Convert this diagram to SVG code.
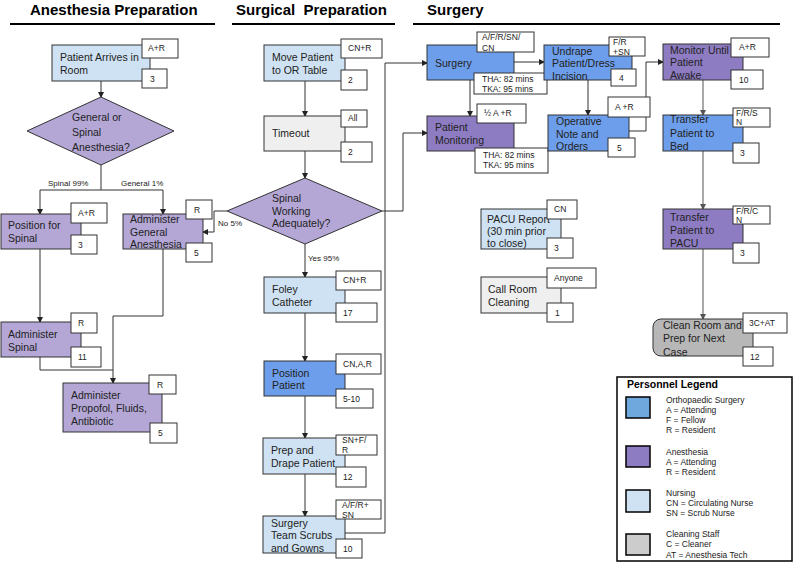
<svg xmlns="http://www.w3.org/2000/svg" width="794" height="562" viewBox="0 0 794 562">
<defs>
<style>
text{font-family:"Liberation Sans",Arial,sans-serif;fill:#222}
.t{font-size:10.5px}
.s{font-size:8.5px}
.e{font-size:8px}
.h{font-size:15px;font-weight:bold;fill:#000}
.b{stroke:#333;stroke-width:1}
.lb{fill:#fff;stroke:#333;stroke-width:1}
.nb{fill:#cfe2f3}.db{fill:#6d9eeb}.lp{fill:#b4a7d6}.dp{fill:#8e7cc3}.lg{fill:#efefef}.gr{fill:#b7b7b7}
.c{fill:none;stroke:#333;stroke-width:1}
.ca{fill:none;stroke:#333;stroke-width:1;marker-end:url(#ah)}
.cg{fill:none;stroke:#8c8c8c;stroke-width:1.5;marker-end:url(#ag)}
.ul{stroke:#000;stroke-width:2}
</style>
<marker id="ah" markerUnits="userSpaceOnUse" markerWidth="6" markerHeight="6" refX="5" refY="3" orient="auto"><path d="M0,0 L6,3 L0,6 z" fill="#222"/></marker>
<marker id="ag" markerUnits="userSpaceOnUse" markerWidth="6" markerHeight="6" refX="5" refY="3" orient="auto"><path d="M0,0 L6,3 L0,6 z" fill="#555"/></marker>
</defs>
<rect width="794" height="562" fill="#fff"/>

<g id="titles">
<text class="h" x="30" y="15">Anesthesia Preparation</text>
<line class="ul" x1="10" y1="24" x2="215" y2="24"/>
<text class="h" x="236" y="15" xml:space="preserve">Surgical  Preparation</text>
<line class="ul" x1="232" y1="24" x2="395" y2="24"/>
<text class="h" x="427" y="15">Surgery</text>
<line class="ul" x1="413" y1="24" x2="780" y2="24"/>
</g>

<g id="connectors">
<path class="ca" d="M101,81 V97"/>
<path class="c" d="M101,165 V190 M40,190 H163"/>
<path class="ca" d="M40,190 V214"/>
<path class="ca" d="M163,190 V214"/>
<text class="e" x="48" y="186">Spinal 99%</text>
<text class="e" x="121" y="186">General 1%</text>
<path class="ca" d="M40,249 V322"/>
<path class="ca" d="M163,249 V316 H113 V383"/>
<path class="c" d="M40,357 V370 H113"/>
<path class="ca" d="M227,211 H214 V232 H203"/>
<text class="e" x="218" y="226">No 5%</text>
<path class="ca" d="M305,81 V116"/>
<path class="ca" d="M305,151 V178"/>
<path class="ca" d="M305,244 V277"/>
<text class="e" x="308" y="261">Yes 95%</text>
<path class="ca" d="M305,313 V361"/>
<path class="ca" d="M305,396 V438"/>
<path class="ca" d="M305,474 V516"/>
<path class="ca" d="M345,533 H385 V63 H427"/>
<path class="ca" d="M382,211 H403 V133 H427"/>
<path class="ca" d="M514,62 H544"/>
<path class="ca" d="M470,80 V116"/>
<path class="ca" d="M588,80 V115"/>
<path class="ca" d="M629,131 H646 V62 H663"/>
<path class="cg" d="M703,80 V115"/>
<path class="cg" d="M703,151 V209"/>
<path class="cg" d="M703,249 V319"/>
</g>

<g id="patient-arrives">
<rect class="b nb" x="52" y="45" width="98" height="36"/>
<text class="t" x="60" y="61">Patient Arrives in</text>
<text class="t" x="60" y="74">Room</text>
<rect class="lb" x="142" y="39" width="36" height="19"/><text class="s" x="148" y="51">A+R</text>
<rect class="lb" x="142" y="69" width="25" height="19"/><text class="s" x="150" y="82">3</text>
</g>

<g id="general-or-spinal">
<polygon class="b lp" points="101,97 174,131 101,165 27,131"/>
<text class="t" x="72" y="121">General or</text>
<text class="t" x="72" y="136">Spinal</text>
<text class="t" x="72" y="151">Anesthesia?</text>
</g>

<g id="position-for-spinal">
<rect class="b lp" x="1" y="214" width="80" height="35"/>
<text class="t" x="8" y="229">Position for</text>
<text class="t" x="8" y="242">Spinal</text>
<rect class="lb" x="71" y="203" width="36" height="20"/><text class="s" x="78" y="216">A+R</text>
<rect class="lb" x="71" y="235" width="26" height="19"/><text class="s" x="78" y="248">3</text>
</g>

<g id="administer-general">
<rect class="b lp" x="123" y="214" width="80" height="35"/>
<text class="t" x="130" y="223">Administer</text>
<text class="t" x="130" y="236">General</text>
<text class="t" x="130" y="248">Anesthesia</text>
<rect class="lb" x="186" y="200" width="26" height="19"/><text class="s" x="194" y="213">R</text>
<rect class="lb" x="186" y="243" width="26" height="19"/><text class="s" x="194" y="256">5</text>
</g>

<g id="administer-spinal">
<rect class="b lp" x="1" y="322" width="80" height="35"/>
<text class="t" x="8" y="338">Administer</text>
<text class="t" x="8" y="351">Spinal</text>
<rect class="lb" x="71" y="313" width="26" height="20"/><text class="s" x="78" y="326">R</text>
<rect class="lb" x="71" y="347" width="30" height="20"/><text class="s" x="78" y="360">11</text>
</g>

<g id="administer-propofol">
<rect class="b lp" x="63" y="383" width="99" height="49"/>
<text class="t" x="71" y="399">Administer</text>
<text class="t" x="71" y="412">Propofol, Fluids,</text>
<text class="t" x="71" y="425">Antibiotic</text>
<rect class="lb" x="149" y="375" width="27" height="19"/><text class="s" x="157" y="388">R</text>
<rect class="lb" x="150" y="423" width="27" height="20"/><text class="s" x="158" y="436">5</text>
</g>

<g id="move-patient">
<rect class="b nb" x="264" y="45" width="81" height="36"/>
<text class="t" x="272" y="61">Move Patient</text>
<text class="t" x="272" y="74">to OR Table</text>
<rect class="lb" x="341" y="39" width="41" height="19"/><text class="s" x="348" y="51">CN+R</text>
<rect class="lb" x="341" y="70" width="26" height="20"/><text class="s" x="348" y="83">2</text>
</g>

<g id="timeout">
<rect class="b lg" x="264" y="116" width="81" height="35"/>
<text class="t" x="272" y="137">Timeout</text>
<rect class="lb" x="341" y="110" width="26" height="17"/><text class="s" x="348" y="121">All</text>
<rect class="lb" x="341" y="142" width="31" height="20"/><text class="s" x="348" y="155">2</text>
</g>

<g id="spinal-working">
<polygon class="b lp" points="305,178 382,211 305,244 227,211"/>
<text class="t" x="272" y="202">Spinal</text>
<text class="t" x="272" y="215">Working</text>
<text class="t" x="272" y="227">Adequately?</text>
</g>

<g id="foley-catheter">
<rect class="b nb" x="264" y="277" width="81" height="36"/>
<text class="t" x="272" y="293">Foley</text>
<text class="t" x="272" y="306">Catheter</text>
<rect class="lb" x="336" y="271" width="45" height="19"/><text class="s" x="343" y="283">CN+R</text>
<rect class="lb" x="336" y="303" width="41" height="19"/><text class="s" x="343" y="316">17</text>
</g>

<g id="position-patient">
<rect class="b db" x="264" y="361" width="81" height="35"/>
<text class="t" x="272" y="377">Position</text>
<text class="t" x="272" y="389">Patient</text>
<rect class="lb" x="336" y="354" width="45" height="20"/><text class="s" x="343" y="367">CN,A,R</text>
<rect class="lb" x="336" y="389" width="37" height="19"/><text class="s" x="343" y="402">5-10</text>
</g>

<g id="prep-drape">
<rect class="b nb" x="263" y="438" width="82" height="36"/>
<text class="t" x="271" y="454">Prep and</text>
<text class="t" x="271" y="467">Drape Patient</text>
<rect class="lb" x="336" y="435" width="41" height="20"/><text class="s" x="342" y="443">SN+F/</text><text class="s" x="342" y="453">R</text>
<rect class="lb" x="336" y="467" width="30" height="20"/><text class="s" x="343" y="480">12</text>
</g>

<g id="team-scrubs">
<rect class="b nb" x="263" y="516" width="82" height="37"/>
<text class="t" x="271" y="527">Surgery</text>
<text class="t" x="271" y="539">Team Scrubs</text>
<text class="t" x="271" y="552">and Gowns</text>
<rect class="lb" x="336" y="500" width="45" height="19"/><text class="s" x="342" y="508">A/F/R+</text><text class="s" x="342" y="518">SN</text>
<rect class="lb" x="336" y="539" width="26" height="19"/><text class="s" x="343" y="552">10</text>
</g>

<g id="surgery">
<rect class="b db" x="427" y="45" width="87" height="35"/>
<text class="t" x="435" y="67">Surgery</text>
<rect class="lb" x="477" y="32" width="57" height="20"/><text class="s" x="482" y="40">A/F/R/SN/</text><text class="s" x="482" y="51">CN</text>
<rect class="lb" x="474" y="73" width="73" height="21"/><text class="s" x="482" y="82">THA: 82 mins</text><text class="s" x="482" y="92">TKA: 95 mins</text>
</g>

<g id="undrape">
<rect class="b db" x="544" y="45" width="88" height="35"/>
<text class="t" x="552" y="55">Undrape</text>
<text class="t" x="552" y="67">Patient/Dress</text>
<text class="t" x="552" y="80">Incision</text>
<rect class="lb" x="609" y="37" width="36" height="19"/><text class="s" x="613" y="45">F/R</text><text class="s" x="613" y="55">+SN</text>
<rect class="lb" x="611" y="69" width="25" height="17"/><text class="s" x="619" y="81">4</text>
</g>

<g id="patient-monitoring">
<rect class="b dp" x="427" y="116" width="87" height="35"/>
<text class="t" x="435" y="131">Patient</text>
<text class="t" x="435" y="144">Monitoring</text>
<rect class="lb" x="477" y="104" width="49" height="19"/><text class="s" x="484" y="116">½ A +R</text>
<rect class="lb" x="475" y="148" width="73" height="25"/><text class="s" x="483" y="158">THA: 82 mins</text><text class="s" x="483" y="168">TKA: 95 mins</text>
</g>

<g id="operative-note">
<rect class="b db" x="548" y="115" width="81" height="36"/>
<text class="t" x="556" y="125">Operative</text>
<text class="t" x="556" y="138">Note and</text>
<text class="t" x="556" y="150">Orders</text>
<rect class="lb" x="608" y="97" width="42" height="20"/><text class="s" x="615" y="110">A +R</text>
<rect class="lb" x="608" y="138" width="27" height="19"/><text class="s" x="617" y="151">5</text>
</g>

<g id="monitor-awake">
<rect class="b dp" x="663" y="44" width="80" height="36"/>
<text class="t" x="670" y="54">Monitor Until</text>
<text class="t" x="670" y="66">Patient</text>
<text class="t" x="670" y="79">Awake</text>
<rect class="lb" x="731" y="38" width="38" height="19"/><text class="s" x="739" y="50">A+R</text>
<rect class="lb" x="731" y="70" width="32" height="19"/><text class="s" x="739" y="83">10</text>
</g>

<g id="transfer-bed">
<rect class="b db" x="663" y="115" width="80" height="36"/>
<text class="t" x="670" y="123">Transfer</text>
<text class="t" x="670" y="137">Patient to</text>
<text class="t" x="670" y="150">Bed</text>
<rect class="lb" x="733" y="108" width="37" height="19"/><text class="s" x="736" y="116">F/R/S</text><text class="s" x="736" y="125">N</text>
<rect class="lb" x="733" y="143" width="26" height="20"/><text class="s" x="740" y="156">3</text>
</g>

<g id="transfer-pacu">
<rect class="b dp" x="663" y="209" width="80" height="40"/>
<text class="t" x="670" y="221">Transfer</text>
<text class="t" x="670" y="234">Patient to</text>
<text class="t" x="670" y="247">PACU</text>
<rect class="lb" x="733" y="206" width="37" height="18"/><text class="s" x="736" y="214">F/R/C</text><text class="s" x="736" y="223">N</text>
<rect class="lb" x="733" y="243" width="26" height="20"/><text class="s" x="740" y="256">3</text>
</g>

<g id="clean-room">
<rect class="b gr" x="653" y="319" width="100" height="37" rx="8"/>
<text class="t" x="663" y="329">Clean Room and</text>
<text class="t" x="663" y="342">Prep for Next</text>
<text class="t" x="663" y="356">Case</text>
<rect class="lb" x="743" y="313" width="44" height="20"/><text class="s" x="749" y="326">3C+AT</text>
<rect class="lb" x="743" y="347" width="30" height="19"/><text class="s" x="750" y="360">12</text>
</g>

<g id="pacu-report">
<rect class="b nb" x="481" y="209" width="80" height="40"/>
<text class="t" x="487" y="223">PACU Report</text>
<text class="t" x="487" y="235">(30 min prior</text>
<text class="t" x="487" y="247">to close)</text>
<rect class="lb" x="547" y="200" width="30" height="19"/><text class="s" x="554" y="212">CN</text>
<rect class="lb" x="547" y="238" width="26" height="20"/><text class="s" x="554" y="251">3</text>
</g>

<g id="call-room-cleaning">
<rect class="b lg" x="481" y="277" width="80" height="36"/>
<text class="t" x="488" y="293">Call Room</text>
<text class="t" x="488" y="306">Cleaning</text>
<rect class="lb" x="547" y="268" width="49" height="20"/><text class="s" x="554" y="281">Anyone</text>
<rect class="lb" x="547" y="303" width="26" height="19"/><text class="s" x="555" y="316">1</text>
</g>

<g id="legend">
<rect x="617" y="377" width="175" height="184" fill="#fff" stroke="#000" stroke-width="1.5"/>
<text x="627" y="388" style="font-size:10.5px;font-weight:bold;fill:#000">Personnel Legend</text>
<rect x="626" y="397" width="24" height="21" fill="#6fa8dc" stroke="#000" stroke-width="1.5"/>
<text class="s" x="666" y="403">Orthopaedic Surgery</text>
<text class="s" x="666" y="413">A = Attending</text>
<text class="s" x="666" y="423">F = Fellow</text>
<text class="s" x="666" y="433">R = Resident</text>
<rect x="626" y="446" width="24" height="21" fill="#8e7cc3" stroke="#000" stroke-width="1.5"/>
<text class="s" x="666" y="455">Anesthesia</text>
<text class="s" x="666" y="465">A = Attending</text>
<text class="s" x="666" y="475">R = Resident</text>
<rect x="626" y="490" width="24" height="22" fill="#cfe2f3" stroke="#000" stroke-width="1.5"/>
<text class="s" x="666" y="496">Nursing</text>
<text class="s" x="666" y="506">CN = Circulating Nurse</text>
<text class="s" x="666" y="516">SN = Scrub Nurse</text>
<rect x="626" y="534" width="24" height="21" fill="#cccccc" stroke="#000" stroke-width="1.5"/>
<text class="s" x="666" y="537">Cleaning Staff</text>
<text class="s" x="666" y="547">C = Cleaner</text>
<text class="s" x="666" y="558">AT = Anesthesia Tech</text>
</g>
</svg>
